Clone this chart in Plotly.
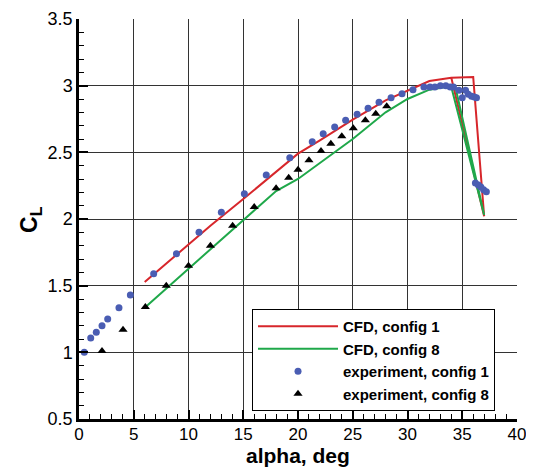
import plotly.graph_objects as go

# CFD config 1
cfd1_alpha = [6.0, 10.0, 12.0, 15.0, 18.0, 20.0, 22.0, 25.0, 28.0, 30.0, 32.0, 34.0, 36.0, 37.0, 34.0]
cfd1_cl    = [1.527, 1.81, 1.95, 2.15, 2.35, 2.49, 2.59, 2.745, 2.89, 2.96, 3.035, 3.06, 3.065, 2.02, 3.06]

# CFD config 8
cfd8_alpha = [6.0, 10.0, 15.0, 18.0, 20.0, 22.0, 25.0, 28.0, 30.0, 32.0, 33.5, 34.0, 37.0, 34.4]
cfd8_cl    = [1.335, 1.625, 1.99, 2.21, 2.30, 2.42, 2.60, 2.80, 2.90, 2.97, 2.99, 2.99, 2.03, 2.98]

# experiment config 1
exp1_alpha = [0.48, 1.07, 1.58, 2.1, 2.62, 3.65, 4.69, 6.82, 8.9, 10.96, 13.0, 15.1, 17.1, 19.25,
              21.3, 22.3, 23.35, 24.35, 25.4, 26.4, 27.4, 28.5, 29.5, 30.5, 31.5, 32.05, 32.5,
              33.0, 33.5, 33.9, 34.2, 34.7, 35.0, 35.3, 35.55, 35.85, 36.1, 36.3,
              36.2, 36.47, 36.7, 36.95, 37.2]
exp1_cl    = [1.0, 1.107, 1.15, 1.2, 1.25, 1.335, 1.43, 1.59, 1.74, 1.90, 2.05, 2.19, 2.33, 2.46,
              2.58, 2.64, 2.69, 2.74, 2.785, 2.83, 2.875, 2.91, 2.94, 2.97, 2.99, 2.99, 2.99,
              3.0, 3.0, 2.99, 2.99, 2.965, 2.91, 2.965, 2.935, 2.92, 2.915, 2.91,
              2.27, 2.255, 2.24, 2.22, 2.205]

# experiment config 8
exp8_alpha = [2.1, 4.02, 6.06, 7.97, 10.0, 12.0, 14.03, 16.0, 18.0, 19.15, 20.0, 21.0, 22.1,
              23.0, 24.0, 25.05, 26.15, 27.1, 28.1]
exp8_cl    = [1.01, 1.17, 1.34, 1.5, 1.65, 1.80, 1.95, 2.09, 2.23, 2.31, 2.37, 2.44, 2.51,
              2.565, 2.62, 2.68, 2.74, 2.79, 2.845]

x_ticks = [0, 5, 10, 15, 20, 25, 30, 35, 40]
y_ticks = [0.5, 1, 1.5, 2, 2.5, 3, 3.5]

RED = "#d7262b"
GREEN = "#1fa84a"
BLUE = "#4a5db3"

fig = go.Figure()
fig.add_trace(go.Scatter(x=cfd1_alpha, y=cfd1_cl, mode="lines", name="CFD, config 1",
                         line=dict(color=RED, width=2)))
fig.add_trace(go.Scatter(x=cfd8_alpha, y=cfd8_cl, mode="lines", name="CFD, config 8",
                         line=dict(color=GREEN, width=2)))
fig.add_trace(go.Scatter(x=exp1_alpha, y=exp1_cl, mode="markers", name="experiment, config 1",
                         marker=dict(color=BLUE, size=7, symbol="circle")))
fig.add_trace(go.Scatter(x=exp8_alpha, y=exp8_cl, mode="markers", name="experiment, config 8",
                         marker=dict(color="black", size=8, symbol="triangle-up")))

FONT = "Liberation Sans, Arial, sans-serif"
fig.update_layout(
    width=526, height=460,
    margin=dict(l=71, r=17, t=11, b=49, autoexpand=False),
    paper_bgcolor="white", plot_bgcolor="white",
    font=dict(family=FONT, color="black", size=18),
    legend=dict(
        x=0.395, y=0.275, xanchor="left", yanchor="top",
        bgcolor="white", bordercolor="black", borderwidth=1,
        font=dict(family=FONT, size=15, weight="bold"),
        itemwidth=80, tracegroupgap=0,
    ),
    xaxis=dict(
        range=[0, 40], tickvals=x_ticks, ticks="inside", ticklen=9, tickwidth=1.5,
        tickcolor="black", showline=True, linecolor="black", linewidth=2.5,
        showgrid=True, gridcolor="#333333", gridwidth=1.2, zeroline=False,
        minor=dict(dtick=1, ticks="inside", ticklen=5, tickcolor="black", tickwidth=1, showgrid=False),
        tickfont=dict(size=17), automargin=False, ticklabelstandoff=-2,
    ),
    yaxis=dict(
        range=[0.5, 3.5], tickvals=y_ticks, ticktext=[("%g" % v) for v in y_ticks],
        ticks="inside", ticklen=9, tickwidth=1.5,
        tickcolor="black", showline=True, linecolor="black", linewidth=2.5,
        showgrid=True, gridcolor="#333333", gridwidth=1.2, zeroline=False,
        minor=dict(dtick=0.1, ticks="inside", ticklen=5, tickcolor="black", tickwidth=1, showgrid=False),
        tickfont=dict(size=18), automargin=False,
    ),
    annotations=[
        dict(text="<b>alpha, deg</b>", xref="paper", yref="paper", x=0.5, y=-0.092,
             xanchor="center", yanchor="middle", showarrow=False, font=dict(size=21)),
        dict(text="<b>C<sub>L</sub></b>", xref="paper", yref="paper", x=-0.112, y=0.5,
             xanchor="center", yanchor="middle", textangle=-90, showarrow=False, font=dict(size=23)),
    ],
)

fig.write_html("out.html")
